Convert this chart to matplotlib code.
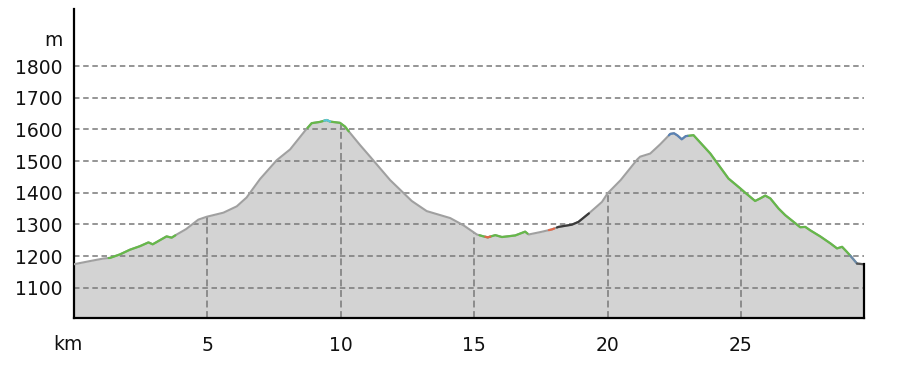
import numpy as np
import matplotlib
matplotlib.use("Agg")
import matplotlib.pyplot as plt

# ---- data ----
km = [0, 0.6, 1.1, 1.35, 1.72, 2.1, 2.47, 2.79, 2.95, 3.22, 3.47, 3.66, 3.85, 4.2,
      4.66, 4.97, 5.6, 6.1, 6.47, 6.97, 7.6, 8.1, 8.66, 8.91, 9.22, 9.47, 9.6, 9.97,
      10.16, 10.29, 10.72, 11.1, 11.85, 12.66, 13.22, 14.1, 14.6, 15.1, 15.35, 15.51,
      15.79, 16.04, 16.54, 16.91, 17.04, 17.5, 17.91, 18.16, 18.66, 18.91, 19.29,
      19.79, 20.0, 20.49, 21.11, 21.22, 21.6, 21.97, 22.35, 22.49, 22.62, 22.78, 22.93,
      23.22, 23.47, 23.85, 24.03, 24.53, 24.97, 25.16, 25.53, 25.72, 25.91, 26.1,
      26.41, 26.66, 26.97, 27.22, 27.41, 27.6, 27.97, 28.35, 28.6, 28.79, 28.97,
      29.16, 29.35, 29.6]
elev = [1174, 1184, 1192, 1194, 1205, 1220, 1231, 1243, 1237, 1250, 1262, 1258, 1268, 1285,
        1315, 1324, 1337, 1357, 1385, 1443, 1503, 1537, 1596, 1620, 1624, 1630, 1625, 1621,
        1609, 1595, 1551, 1514, 1440, 1374, 1342, 1320, 1297, 1268, 1262, 1259,
        1266, 1260, 1265, 1277, 1268, 1276, 1284, 1292, 1299, 1308, 1334,
        1371, 1398, 1440, 1505, 1514, 1524, 1553, 1586, 1588, 1581, 1569, 1579,
        1582, 1559, 1524, 1503, 1445, 1414, 1400, 1374, 1382, 1391, 1382,
        1350, 1329, 1308, 1291, 1292, 1281, 1262, 1240, 1224, 1229, 1213,
        1195, 1176, 1174]

# coloured path segments (start km, end km, colour)
seg_start = [1.3, 8.75, 15.2, 23.0, 9.38, 15.42, 17.8, 18.1, 22.3, 29.1, 29.35]
seg_end   = [3.8, 10.3, 17.0, 29.1, 9.6, 15.6, 18.0, 19.3, 23.0, 29.35, 29.6]
seg_color = ["#66b84a", "#66b84a", "#66b84a", "#66b84a", "#5cc6dc", "#e0684a",
             "#e0684a", "#3a3a3a", "#5a82b4", "#6a8aa8", "#555555"]

y_ticks = [1100, 1200, 1300, 1400, 1500, 1600, 1700, 1800]
x_ticks = [5, 10, 15, 20, 25]

ymin, ymax = 1004, 1980

km_a = np.array(km)
el_a = np.array(elev)

fig = plt.figure(figsize=(8.97, 3.73), dpi=100)
ax = fig.add_axes([74/897, 1-318/373, (863.7-74)/897, (318-9.3)/373])
ax.set_xlim(0, km_a[-1])
ax.set_ylim(ymin, ymax)

ax.fill_between(km_a, el_a, ymin, color="#d3d3d3", lw=0, zorder=1)

grid_c = "#787878"
for yv in y_ticks:
    ax.axhline(yv, color=grid_c, lw=1.1, ls=(0, (3.6, 2.4)), zorder=2)
for xv in x_ticks:
    top = np.interp(xv, km_a, el_a)
    ax.plot([xv, xv], [ymin, top], color=grid_c, lw=1.1, ls=(0, (4.5, 2.4)), zorder=2)

ax.plot(km_a, el_a, color="#a0a0a0", lw=1.5, zorder=3, solid_capstyle="round")
for a, b, c in zip(seg_start, seg_end, seg_color):
    inner = km_a[(km_a > a) & (km_a < b)]
    xs = np.concatenate([[a], inner, [b]])
    ys = np.interp(xs, km_a, el_a)
    ax.plot(xs, ys, color=c, lw=1.6, zorder=4, solid_capstyle="round")

# end line
ax.plot([km_a[-1], km_a[-1]], [ymin, el_a[-1]], color="black", lw=1.6, zorder=5, clip_on=False)

for s in ["top", "right"]:
    ax.spines[s].set_visible(False)
ax.spines["left"].set_linewidth(1.6)
ax.spines["bottom"].set_linewidth(1.6)

ax.set_yticks(y_ticks)
ax.set_yticklabels([str(v) for v in y_ticks])
ax.set_xticks(x_ticks)
ax.set_xticklabels([str(v) for v in x_ticks])
ax.tick_params(axis="both", length=0, labelsize=13.5, colors="#111111")
ax.tick_params(axis="y", pad=8)
ax.tick_params(axis="x", pad=13)

fig.text(63/897, 1-40/373, "m", ha="right", va="center", fontsize=13.5, color="#111111")
fig.text(53/897, 1-345/373, "km", ha="left", va="center", fontsize=13.5, color="#111111")

fig.savefig("out.png", dpi=100)
